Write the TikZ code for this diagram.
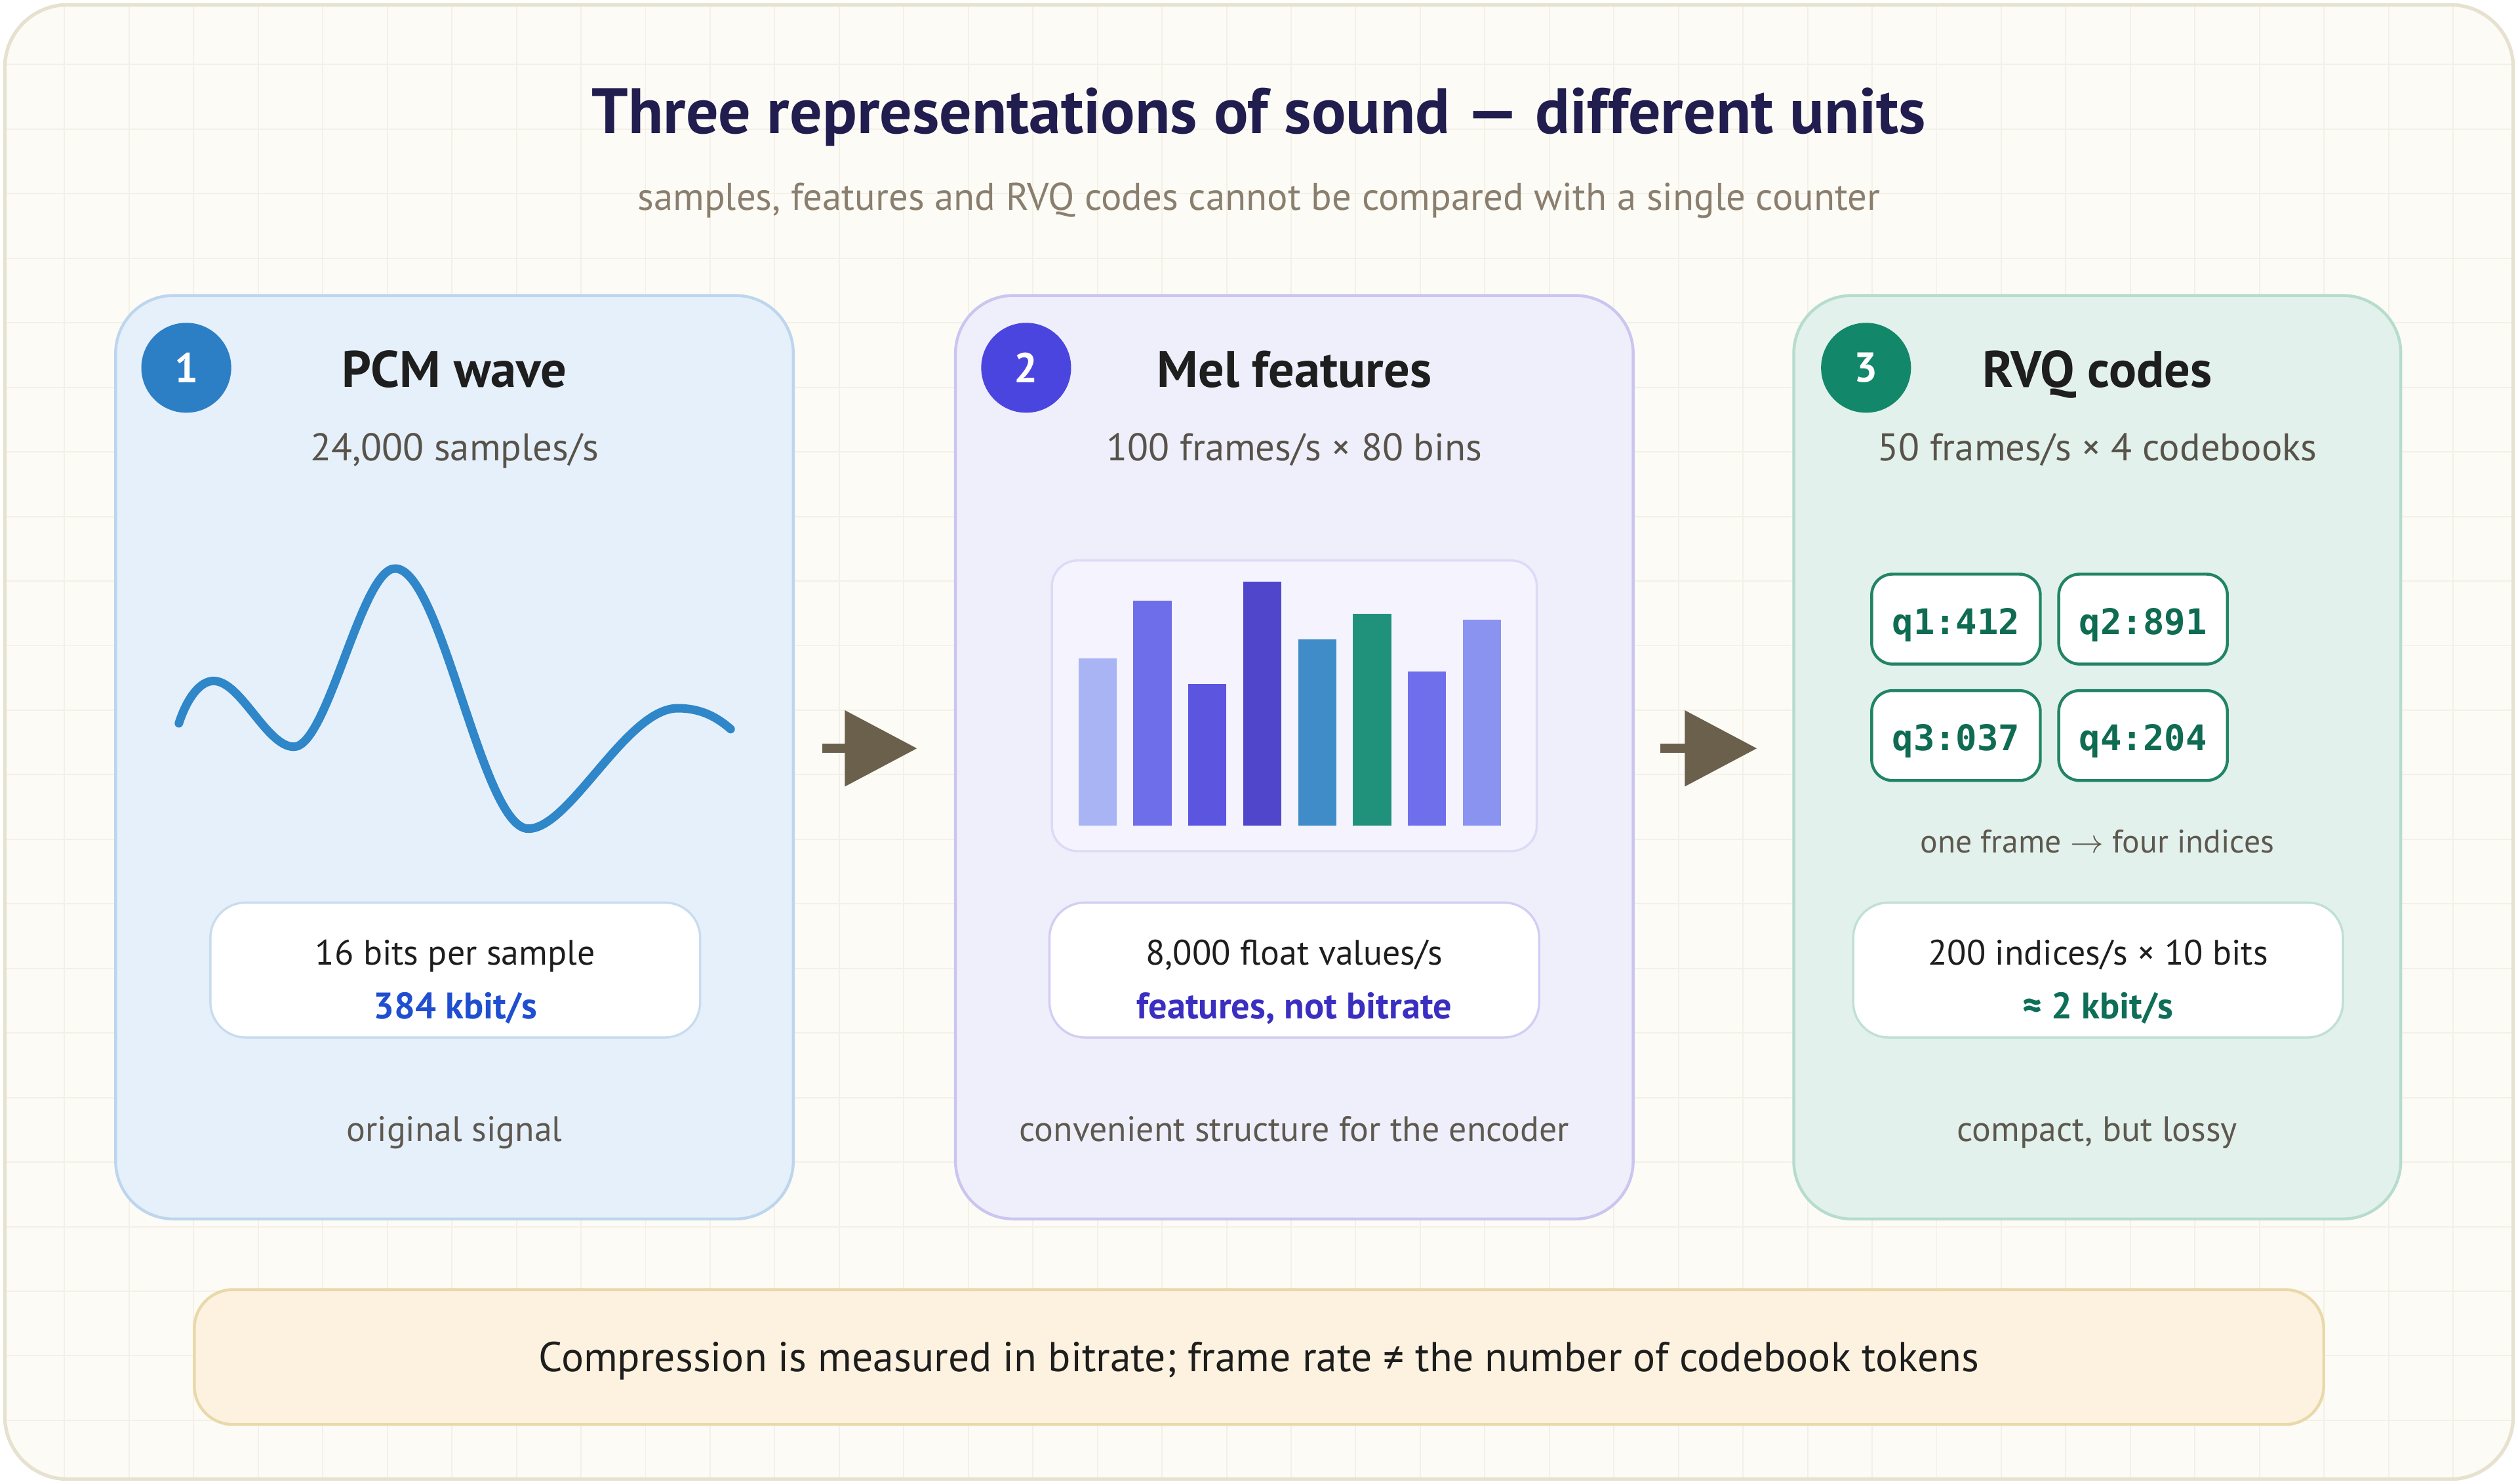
\documentclass[tikz,border=0pt]{standalone}
\usepackage{fontspec}
\setmainfont{PT Sans}
\newfontfamily\monof{DejaVu Sans Mono}
\usetikzlibrary{arrows.meta}
\definecolor{pagebg}{HTML}{FDFBF6}
\definecolor{gridc}{HTML}{F4F0E6}
\definecolor{framec}{HTML}{E7E1D0}
\definecolor{titlec}{HTML}{211D4E}
\definecolor{subc}{HTML}{8A7F6E}
\definecolor{headc}{HTML}{1E1E1E}
\definecolor{rowc}{HTML}{58534A}
\definecolor{capc}{HTML}{5E5950}
\definecolor{fillA}{HTML}{E6F0FA}
\definecolor{lineA}{HTML}{BDD6EE}
\definecolor{fillB}{HTML}{EFEFFB}
\definecolor{lineB}{HTML}{CAC6F0}
\definecolor{fillC}{HTML}{E2F1EB}
\definecolor{lineC}{HTML}{B6DCCE}
\definecolor{dotA}{HTML}{2C7FC4}
\definecolor{dotB}{HTML}{4B45E0}
\definecolor{dotC}{HTML}{13876A}
\definecolor{wavec}{HTML}{2F86C8}
\definecolor{boxlA}{HTML}{C8DCF0}
\definecolor{boxlB}{HTML}{D2CEF3}
\definecolor{boxlC}{HTML}{C0E0D4}
\definecolor{valA}{HTML}{1F4FD0}
\definecolor{valB}{HTML}{3B2FC2}
\definecolor{valC}{HTML}{0E6E58}
\definecolor{arrowc}{HTML}{6B604C}
\definecolor{chipl}{HTML}{228466}
\definecolor{chipt}{HTML}{0F6B52}
\definecolor{bannerf}{HTML}{FCF2DF}
\definecolor{bannerl}{HTML}{E9D9AA}
\definecolor{chartf}{HTML}{F4F3FE}
\definecolor{chartl}{HTML}{DCDAF6}
\definecolor{barA}{HTML}{A9B4F5}
\definecolor{barB}{HTML}{6E6EEB}
\definecolor{barC}{HTML}{5B55E0}
\definecolor{barD}{HTML}{5046CC}
\definecolor{barE}{HTML}{3F8CC8}
\definecolor{barF}{HTML}{20917A}
\definecolor{barG}{HTML}{6F6FEC}
\definecolor{barH}{HTML}{8A93F0}
\tikzset{
  panelbox/.style={draw, line width=1.8pt, rounded corners=36pt, minimum width=422pt, minimum height=575pt, inner sep=0pt},
  infobox/.style={draw, fill=white, line width=1.4pt, rounded corners=22pt, minimum width=305pt, minimum height=84pt, inner sep=0pt},
  numdot/.style={circle, minimum size=56pt, inner sep=0pt, text=white, font=\fontsize{26}{30}\selectfont\bfseries},
  headtxt/.style={anchor=base, text=headc, font=\fontsize{32}{38}\selectfont\bfseries, inner sep=0pt},
  ratetxt/.style={anchor=base, text=rowc, font=\fontsize{24}{29}\selectfont, inner sep=0pt},
  infotxt/.style={anchor=base, text=headc, font=\fontsize{22}{26}\selectfont, inner sep=0pt},
  valtxt/.style={anchor=base, font=\fontsize{23}{27}\selectfont\bfseries, inner sep=0pt},
  captxt/.style={anchor=base, text=capc, font=\fontsize{22}{26}\selectfont, inner sep=0pt},
  chipbox/.style={draw=chipl, fill=white, line width=1.8pt, rounded corners=13pt, minimum width=105pt, minimum height=56pt, inner sep=0pt, text height=19pt, text depth=0pt, text=chipt, font=\fontsize{22}{26}\selectfont\monof\bfseries},
  flowarrow/.style={draw=arrowc, line width=5.7pt, -{Triangle[length=45pt,width=46pt]}},
}
\begin{document}
\begin{tikzpicture}[x=1pt,y=-1pt]
\useasboundingbox (0,0) rectangle (1568,924);
\fill[white] (0,0) rectangle (1568,924);
% outer frame with grid
\fill[pagebg, rounded corners=39pt] (3,3) rectangle (1565,921);
\begin{scope}
  \clip[rounded corners=39pt] (3,3) rectangle (1565,921);
  \foreach \i in {1,...,38} {\draw[gridc, line width=0.8pt] (40.2*\i,0) -- (40.2*\i,924);}
  \foreach \j in {1,...,22} {\draw[gridc, line width=0.8pt] (0,40.2*\j) -- (1568,40.2*\j);}
\end{scope}
\node[draw=framec, line width=2.2pt, rounded corners=39pt, minimum width=1562pt, minimum height=918pt, inner sep=0pt] (frame) at (784,462) {};

% title
\node[anchor=base, text=titlec, font=\fontsize{40}{46}\selectfont\bfseries, inner sep=0pt] (title) at (784,83) {Three representations of sound — different units};
\node[anchor=base, text=subc, font=\fontsize{24}{28}\selectfont, inner sep=0pt] (subtitle) at (784,131) {samples, features and RVQ codes cannot be compared with a single counter};

% panels
\node[panelbox, draw=lineA, fill=fillA] (p1) at (283,471.5) {};
\node[panelbox, draw=lineB, fill=fillB] (p2) at (806,471.5) {};
\node[panelbox, draw=lineC, fill=fillC, minimum width=378pt] (p3) at (1306,471.5) {};

% numbered dots
\node[numdot, fill=dotA] (n1) at (116,229) {1};
\node[numdot, fill=dotB] (n2) at (639,229) {2};
\node[numdot, fill=dotC] (n3) at (1162,229) {3};

% headers
\node[headtxt] (h1) at (283,241) {PCM wave};
\node[headtxt] (h2) at (806,241) {Mel features};
\node[headtxt] (h3) at (1306,241) {RVQ codes};
\node[ratetxt] (r1) at (283,287) {24,000 samples/s};
\node[ratetxt] (r2) at (806,287) {100 frames/s × 80 bins};
\node[ratetxt] (r3) at (1306,287) {50 frames/s × 4 codebooks};

% waveform
\draw[wavec, line width=5.3pt, line cap=round, line join=round]
  (111.4,450.4) .. controls (116,436) and (124,424) .. (133,424)
  .. controls (150,424) and (166,465) .. (183,465)
  .. controls (204,465) and (225,354) .. (246,354)
  .. controls (275,354) and (300,516) .. (329,516)
  .. controls (355,516) and (390,441) .. (422,441)
  .. controls (437,441) and (447,447) .. (455,454);

% mel chart
\node[draw=chartl, fill=chartf, line width=1.4pt, rounded corners=16pt, minimum width=302pt, minimum height=181pt, inner sep=0pt] (chart) at (806,439.5) {};
\fill[barA] (671.5,410) rectangle ++(23.8,104);
\fill[barB] (705.7,374) rectangle ++(23.8,140);
\fill[barC] (739.9,426) rectangle ++(23.8,88);
\fill[barD] (774.1,362) rectangle ++(23.8,152);
\fill[barE] (808.3,398) rectangle ++(23.8,116);
\fill[barF] (842.5,382) rectangle ++(23.8,132);
\fill[barG] (876.7,418) rectangle ++(23.8,96);
\fill[barH] (910.9,386) rectangle ++(23.8,128);

% codebook chips
\node[chipbox] (c1) at (1218,385.5) {q1:412};
\node[chipbox] (c2) at (1334.5,385.5) {q2:891};
\node[chipbox] (c3) at (1218,458) {q3:037};
\node[chipbox] (c4) at (1334.5,458) {q4:204};
\node[anchor=base, text=capc, font=\fontsize{20.3}{24}\selectfont, inner sep=0pt] (onef) at (1306,531) {one frame $\rightarrow$ four indices};

% info boxes
\node[infobox, draw=boxlA] (b1) at (283.5,604) {};
\node[infobox, draw=boxlB] (b2) at (806,604) {};
\node[infobox, draw=boxlC] (b3) at (1306.5,604) {};
\node[infotxt] (b1a) at (283.5,601) {16 bits per sample};
\node[valtxt, text=valA] (b1b) at (283.5,634.5) {384 kbit/s};
\node[infotxt] (b2a) at (806,601) {8,000 float values/s};
\node[valtxt, text=valB] (b2b) at (806,634.5) {features, not bitrate};
\node[infotxt] (b3a) at (1306.5,601) {200 indices/s × 10 bits};
\node[valtxt, text=valC] (b3b) at (1306.5,634.5) {≈ 2 kbit/s};

% captions
\node[captxt] (k1) at (283,710.5) {original signal};
\node[captxt] (k2) at (806,710.5) {convenient structure for the encoder};
\node[captxt] (k3) at (1306,710.5) {compact, but lossy};

% arrows between panels
\draw[flowarrow] ([xshift=17pt,yshift=5.5pt]p1.east) -- ([xshift=-23pt,yshift=5.5pt]p2.west);
\draw[flowarrow] ([xshift=16pt,yshift=5.5pt]p2.east) -- ([xshift=-22pt,yshift=5.5pt]p3.west);

% banner
\node[draw=bannerl, fill=bannerf, line width=1.8pt, rounded corners=24pt, minimum width=1326pt, minimum height=84pt, inner sep=0pt] (banner) at (784,845) {};
\node[anchor=base, text=headc, font=\fontsize{26}{30}\selectfont, inner sep=0pt] (bannertxt) at (784,854) {Compression is measured in bitrate; frame rate ≠ the number of codebook tokens};
\end{tikzpicture}
\end{document}
